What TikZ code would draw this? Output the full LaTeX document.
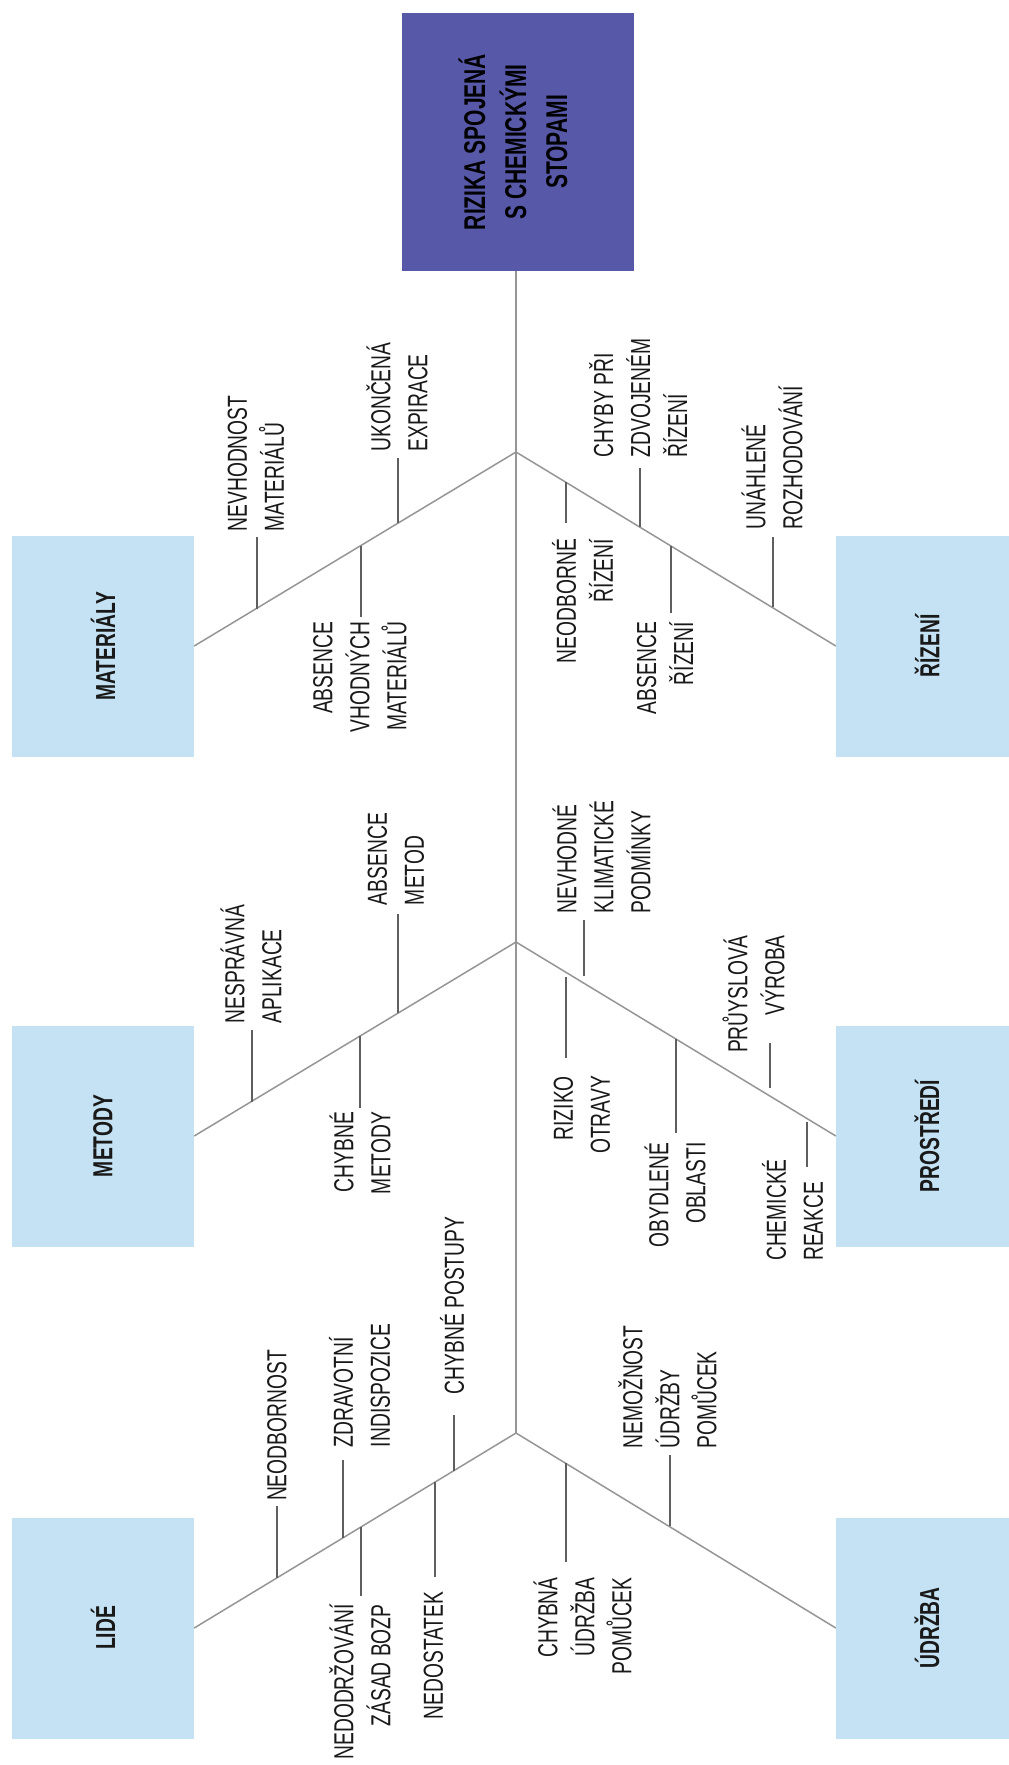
\documentclass[tikz,border=0pt]{standalone}
\usepackage{fontspec}
\setmainfont{Liberation Sans}[FakeStretch=0.70]
\definecolor{titlefill}{RGB}{88,88,168}
\definecolor{catfill}{RGB}{196,226,243}
\definecolor{bonegray}{RGB}{150,150,150}
\definecolor{tickgray}{RGB}{95,95,95}
\definecolor{txt}{RGB}{25,25,25}
\tikzset{
  spine/.style={draw=bonegray, line width=2pt},
  bone/.style={draw=bonegray, line width=1.5pt},
  tick/.style={draw=tickgray, line width=1.6pt},
  lbl/.style={rotate=90, inner sep=0pt, text=txt, font=\fontsize{27.5}{37}\selectfont},
  lbll/.style={lbl, align=left},
  lblr/.style={lbl, align=right},
  catbox/.style={fill=catfill, minimum width=182pt, minimum height=221pt, inner sep=0pt,
    text=txt, font=\bfseries\fontsize{27.5}{37}\selectfont},
  titlebox/.style={fill=titlefill, minimum width=232pt, minimum height=258pt, inner sep=0pt,
    text=black, font=\bfseries\fontsize{30}{41}\selectfont}
}
\begin{document}
\begin{tikzpicture}[x=1pt,y=-1pt]
\useasboundingbox (0,0) rectangle (1009,1765);
\fill[white] (0,0) rectangle (1009,1765);

% title and category boxes
\node[titlebox] (title) at (518,142) {\rotatebox{90}{\begin{tabular}{@{}c@{}}RIZIKA SPOJENÁ\\S CHEMICKÝMI\\STOPAMI\end{tabular}}};
\node[catbox] (mat) at (103,646) {\rotatebox{90}{MATERIÁLY}};
\node[catbox] (riz) at (927,646) {\rotatebox{90}{ŘÍZENÍ}};
\node[catbox] (met) at (103,1136) {\rotatebox{90}{METODY}};
\node[catbox] (pro) at (927,1136) {\rotatebox{90}{PROSTŘEDÍ}};
\node[catbox] (lid) at (103,1628) {\rotatebox{90}{LIDÉ}};
\node[catbox] (udr) at (927,1628) {\rotatebox{90}{ÚDRŽBA}};

% spine and bones
\coordinate (a1) at (516,452);
\coordinate (a2) at (516,942);
\coordinate (a3) at (516,1433);
\draw[spine] (title.south -| a1) -- (a3);
\draw[bone] (a1) -- (mat.east);
\draw[bone] (a1) -- (riz.west);
\draw[bone] (a2) -- (met.east);
\draw[bone] (a2) -- (pro.west);
\draw[bone] (a3) -- (lid.east);
\draw[bone] (a3) -- (udr.west);

% tick coordinates
\coordinate (t1s) at (257,608.5);  \coordinate (t1e) at (257,537);
\coordinate (t2s) at (398,523);    \coordinate (t2e) at (398,458);
\coordinate (t3s) at (361,545.5);  \coordinate (t3e) at (361,617);
\coordinate (t4s) at (566,482);    \coordinate (t4e) at (566,523);
\coordinate (t5s) at (640,527);    \coordinate (t5e) at (640,468);
\coordinate (t6s) at (671,545.5);  \coordinate (t6e) at (671,613);
\coordinate (t7s) at (773,607);    \coordinate (t7e) at (773,537);
\coordinate (t8s) at (252,1101.5); \coordinate (t8e) at (252,1030);
\coordinate (t9s) at (398,1013);   \coordinate (t9e) at (398,914);
\coordinate (t10s) at (360,1036);  \coordinate (t10e) at (360,1108);
\coordinate (t11s) at (584,976);   \coordinate (t11e) at (584,920);
\coordinate (t12s) at (566,977);   \coordinate (t12e) at (566,1058);
\coordinate (t13s) at (770,1088);  \coordinate (t13e) at (770,1043);
\coordinate (t14s) at (676,1038.5);\coordinate (t14e) at (676,1133);
\coordinate (t15s) at (807,1122);  \coordinate (t15e) at (807,1167);
\coordinate (t16s) at (277,1577.5);\coordinate (t16e) at (277,1506);
\coordinate (t17s) at (343,1537.5);\coordinate (t17e) at (343,1460);
\coordinate (t18s) at (454,1470.5);\coordinate (t18e) at (454,1415);
\coordinate (t19s) at (361,1526.5);\coordinate (t19e) at (361,1596);
\coordinate (t20s) at (435,1482);  \coordinate (t20e) at (435,1577);
\coordinate (t21s) at (566,1463);  \coordinate (t21e) at (566,1562);
\coordinate (t22s) at (670,1526);  \coordinate (t22e) at (670,1455);
\foreach \i in {1,...,22} {\draw[tick] (t\i s) -- (t\i e);}

% labels
\node[lbll] (l1) at (256,463.5) {NEVHODNOST\\MATERIÁLŮ};
\node[lbll] (l2) at (397,397) {UKONČENÁ\\EXPIRACE};
\node[lblr] (l3) at (360,677) {ABSENCE\\VHODNÝCH\\MATERIÁLŮ};
\node[lblr] (l4) at (582.5,601) {NEODBORNÉ\\ŘÍZENÍ};
\node[lbll] (l5) at (638,398) {CHYBY PŘI\\ZDVOJENÉM\\ŘÍZENÍ};
\node[lblr] (l6) at (665,668) {ABSENCE\\ŘÍZENÍ};
\node[lbll] (l7) at (772,457.5) {UNÁHLENÉ\\ROZHODOVÁNÍ};
\node[lbll] (l8) at (251,964) {NESPRÁVNÁ\\APLIKACE};
\node[lbll] (l9) at (396,859) {ABSENCE\\METOD};
\node[lblr] (l10) at (360,1153) {CHYBNÉ\\METODY};
\node[lbll] (l11) at (601.5,857) {NEVHODNÉ\\KLIMATICKÉ\\PODMÍNKY};
\node[lblr] (l12) at (582,1115) {RIZIKO\\OTRAVY};
\node[lblr] (l13) at (753.5,994) {PRŮYSLOVÁ\\VÝROBA};
\node[lblr] (l14) at (675,1195) {OBYDLENÉ\\OBLASTI};
\node[lbll] (l15) at (792.5,1210) {CHEMICKÉ\\REAKCE};
\node[lbl] (l16) at (277,1425.5) {NEODBORNOST};
\node[lbll] (l17) at (359.5,1385.5) {ZDRAVOTNÍ\\INDISPOZICE};
\node[lbl] (l18) at (452,1305.5) {CHYBNÉ POSTUPY};
\node[lblr] (l19) at (360,1682) {NEDODRŽOVÁNÍ\\ZÁSAD BOZP};
\node[lbl] (l20) at (433.5,1655.5) {NEDOSTATEK};
\node[lblr] (l21) at (582.5,1626) {CHYBNÁ\\ÚDRŽBA\\POMŮCEK};
\node[lbll] (l22) at (667.5,1387) {NEMOŽNOST\\ÚDRŽBY\\POMŮCEK};
\end{tikzpicture}
\end{document}
